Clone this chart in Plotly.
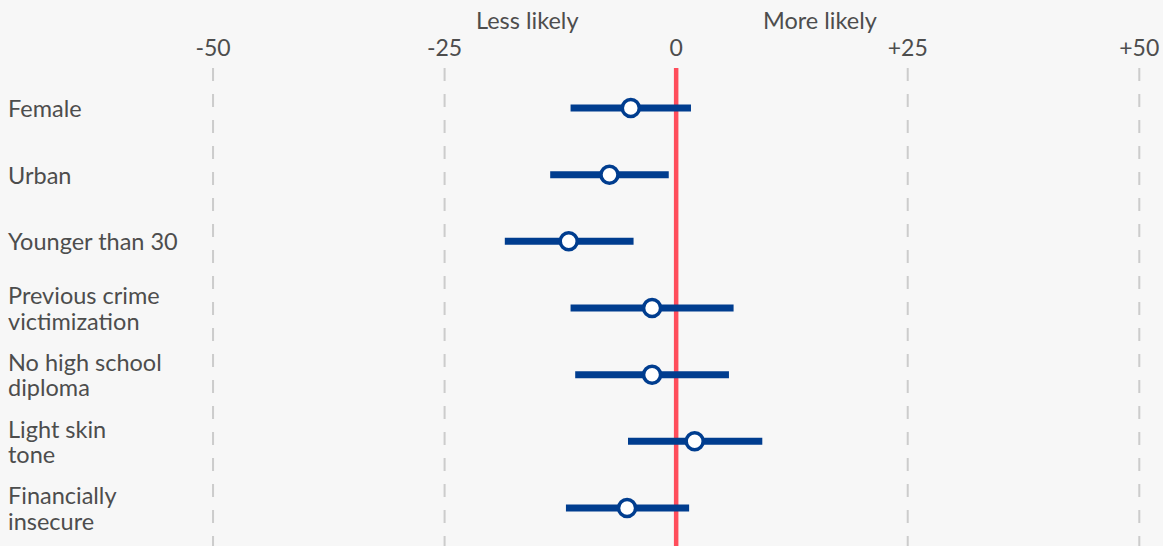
import plotly.graph_objects as go

labels = ['Female', 'Urban', 'Younger than 30', 'Previous crime<br>victimization',
          'No high school<br>diploma', 'Light skin<br>tone', 'Financially<br>insecure']
estimate = [-4.9, -7.2, -11.6, -2.6, -2.6, 2.0, -5.3]
ci_low = [-11.4, -13.6, -18.5, -11.4, -10.9, -5.2, -11.9]
ci_high = [1.6, -0.8, -4.6, 6.2, 5.7, 9.3, 1.4]
tick_vals = [-50, -25, 0, 25, 50]
tick_text = ['-50', '-25', '0', '+25', '+50']

BLUE = '#003d8f'
RED = '#ff4d5b'
GREY = '#cccccc'
TXT = '#4d4d4d'
BG = '#f7f7f7'
FONT = 'Lato'

fig = go.Figure()

# dashed grid lines for non-zero ticks
for v in tick_vals:
    if v == 0:
        continue
    fig.add_trace(go.Scatter(x=[v, v], y=[-0.6, 6.6], mode='lines',
                             line=dict(color=GREY, width=2, dash='13px,13px'),
                             hoverinfo='skip', showlegend=False))

# zero line
fig.add_trace(go.Scatter(x=[0, 0], y=[-0.6, 6.6], mode='lines',
                         line=dict(color=RED, width=4.5),
                         hoverinfo='skip', showlegend=False))

# confidence intervals
for i in range(len(labels)):
    fig.add_trace(go.Scatter(x=[ci_low[i], ci_high[i]], y=[i, i], mode='lines',
                             line=dict(color=BLUE, width=7),
                             hoverinfo='skip', showlegend=False))

fig.add_trace(go.Scatter(x=estimate, y=list(range(len(labels))), mode='markers',
                         marker=dict(size=17, color='white', line=dict(color=BLUE, width=3.5)),
                         showlegend=False))

# row labels, one annotation per line to keep the tight line spacing
for i, lab in enumerate(labels):
    parts = lab.split('<br>')
    n = len(parts)
    for j, part in enumerate(parts):
        fig.add_annotation(x=0, xref='paper', y=i, yref='y', text=part, showarrow=False,
                           xanchor='left', align='left', xshift=6,
                           yshift=-(j - (n - 1) / 2) * 25.5,
                           font=dict(family=FONT, size=23.5, color=TXT))

fig.add_annotation(x=-16.1, y=1, xref='x', yref='paper', yanchor='middle', yshift=48,
                   text='Less likely', showarrow=False,
                   font=dict(family=FONT, size=23.5, color=TXT))
fig.add_annotation(x=15.5, y=1, xref='x', yref='paper', yanchor='middle', yshift=48,
                   text='More likely', showarrow=False,
                   font=dict(family=FONT, size=23.5, color=TXT))

fig.update_layout(
    width=1163, height=546,
    margin=dict(l=0, r=0, t=68, b=0),
    paper_bgcolor=BG, plot_bgcolor=BG,
    font=dict(family=FONT, size=20, color=TXT),
)
fig.update_xaxes(range=[-73.0, 52.56], side='top', tickvals=tick_vals, ticktext=tick_text,
                 showgrid=False, zeroline=False, showline=False, ticks='',
                 ticklabelstandoff=6,
                 tickfont=dict(family=FONT, size=23, color=TXT), fixedrange=True)
fig.update_yaxes(range=[6.57, -0.6], showgrid=False, zeroline=False, showline=False,
                 showticklabels=False, fixedrange=True)

fig.write_html('out.html', config={'displayModeBar': False},
               post_script="document.body.style.margin='0';"
                           "document.body.style.background='#f7f7f7';")
